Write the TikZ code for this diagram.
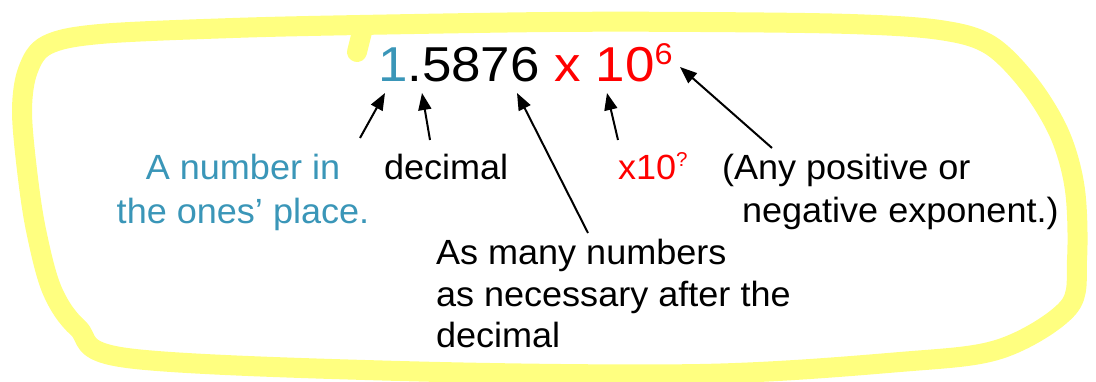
\documentclass[tikz,border=0pt]{standalone}
\usepackage{fontspec}
\setmainfont{Liberation Sans}
\newfontfamily\widefont[FakeStretch=1.08]{Liberation Sans}
\newfontfamily\labfont[FakeStretch=1.03,Ligatures=TeX]{Liberation Sans}
\usetikzlibrary{arrows.meta}
\definecolor{hilite}{RGB}{255,255,128}
\definecolor{tealtxt}{RGB}{58,150,184}
\definecolor{redtxt}{RGB}{255,0,0}
\tikzset{
  arr/.style={draw=black, line width=2pt, -{Triangle[length=17pt,width=13pt]}},
  lab/.style={inner sep=0pt, outer sep=0pt, font=\labfont\fontsize{35}{44}\selectfont},
  big/.style={inner sep=0pt, outer sep=0pt, font=\widefont\fontsize{49}{55}\selectfont},
}
\begin{document}
\begin{tikzpicture}[x=1pt,y=-1pt]
\useasboundingbox[fill=white] (0,0) rectangle (1096,382);
% yellow hand-drawn loop
\draw[hilite, line width=20pt, line cap=round, line join=round]
  plot[smooth cycle, tension=0.55] coordinates {
   (47,45) (100,34) (233,28) (360,25) (550,22) (700,22) (850,24) (940,30)
   (990,45) (1030,85) (1060,135) (1075,190) (1077,260) (1068,308) (1000,349)
   (900,362) (700,374) (400,371) (127,358) (78,328) (52,290) (36,230)
   (27,170) (22,110) (28,70)};
\draw[hilite, line width=20pt, line cap=round] (357,52) -- (363,28);
% formula
\node[big, anchor=base west] (formula) at (378,82)
  {{\color{tealtxt}1}.5876 {\color{redtxt}x 10\raisebox{17pt}{\fontsize{30}{30}\selectfont 6}}};
% labels (multi-line nodes: base = baseline of last line)
\node[lab, anchor=base, align=center, text=tealtxt] (ones) at (243,224)
  {A number in\\the ones’ place.};
\node[lab, anchor=base west] (dec) at (384,180) {decimal};
\node[lab, anchor=base west, text=redtxt] (pow) at (618,180)
  {x10\raisebox{13pt}{\fontsize{20}{20}\selectfont ?}};
\node[lab, anchor=base west, align=left, font=\labfont\fontsize{35}{43}\selectfont] (anyexp) at (722,223)
  {(Any positive or\\\hspace*{20pt}negative exponent.)};
\node[lab, anchor=base west, align=left, font=\labfont\fontsize{35}{41.5}\selectfont] (many) at (436,348)
  {As many numbers\\as necessary after the\\decimal};
% arrow end points
\coordinate (t1) at (360,138); \coordinate (h1) at (385,93);
\coordinate (t2) at (430,140); \coordinate (h2) at (422,93);
\coordinate (t3) at (588,233); \coordinate (h3) at (517,93);
\coordinate (t4) at (618,140); \coordinate (h4) at (607,93);
\coordinate (t5) at (772,148); \coordinate (h5) at (680,67);
\draw[arr] (t1) -- (h1);
\draw[arr] (t2) -- (h2);
\draw[arr] (t3) -- (h3);
\draw[arr] (t4) -- (h4);
\draw[arr] (t5) -- (h5);
\end{tikzpicture}
\end{document}
